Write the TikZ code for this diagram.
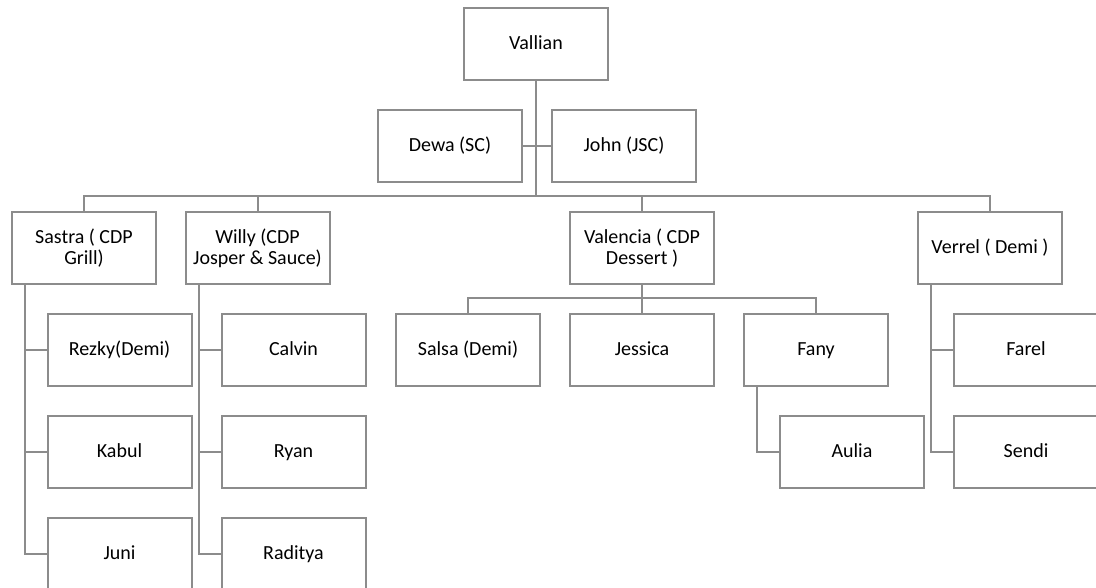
\documentclass[tikz,border=0pt]{standalone}
\usepackage{fontspec}
\setmainfont{Carlito}
\definecolor{linegray}{RGB}{140,140,140}
\newcommand{\lvl}{\vphantom{()}}
\begin{document}
\begin{tikzpicture}[x=0.75pt,y=-0.75pt,
  box/.style={draw=linegray, line width=1.5pt, fill=white, minimum width=108pt, minimum height=54pt,
    inner sep=2pt, align=center, font=\fontsize{15}{15.8}\selectfont, text=black},
  conn/.style={draw=linegray, line width=1.5pt}]
\useasboundingbox (0,0) rectangle (1096,588);
\fill[white] (0,0) rectangle (1096,588);
\clip (0,0) rectangle (1096,588);
% nodes
\node[box] (vallian) at (536,44) {\lvl Vallian};
\node[box] (dewa) at (450,146) {\lvl Dewa (SC)};
\node[box] (john) at (624,146) {\lvl John (JSC)};
\node[box] (sastra) at (84,248) {Sastra ( CDP\\Grill)};
\node[box] (willy) at (257.5,248) {Willy (CDP\\Josper \& Sauce)};
\node[box] (valencia) at (642,248) {Valencia ( CDP\\Dessert )};
\node[box] (verrel) at (990,248) {\lvl Verrel ( Demi )};
\node[box] (rezky) at (119.5,350) {\lvl Rezky(Demi)};
\node[box] (kabul) at (119.5,452) {\lvl Kabul};
\node[box] (juni) at (119.5,554) {\lvl Juni};
\node[box] (calvin) at (293.5,350) {\lvl Calvin};
\node[box] (ryan) at (293.5,452) {\lvl Ryan};
\node[box] (raditya) at (293.5,554) {\lvl Raditya};
\node[box] (salsa) at (468,350) {\lvl Salsa (Demi)};
\node[box] (jessica) at (642,350) {\lvl Jessica};
\node[box] (fany) at (816,350) {\lvl Fany};
\node[box] (aulia) at (852,452) {\lvl Aulia};
\node[box] (farel) at (1026,350) {\lvl Farel};
\node[box] (sendi) at (1026,452) {\lvl Sendi};
% connectors
\coordinate (bar) at (536,196);
\coordinate (vbar) at (642,298);
\draw[conn] (vallian.south) -- (bar);
\draw[conn] (dewa.east) -- (john.west);
\draw[conn] (sastra.north) |- (bar) -| (verrel.north);
\draw[conn] (willy.north) -- (willy.north |- bar);
\draw[conn] (valencia.north) -- (valencia.north |- bar);
\draw[conn] (valencia.south) -- (vbar);
\draw[conn] (salsa.north) |- (vbar) -| (fany.north);
\draw[conn] (jessica.north) -- (vbar);
\draw[conn] ([xshift=10.5pt]sastra.south west) |- (rezky.west);
\draw[conn] ([xshift=10.5pt]sastra.south west) |- (kabul.west);
\draw[conn] ([xshift=10.5pt]sastra.south west) |- (juni.west);
\draw[conn] ([xshift=10.5pt]willy.south west) |- (calvin.west);
\draw[conn] ([xshift=10.5pt]willy.south west) |- (ryan.west);
\draw[conn] ([xshift=10.5pt]willy.south west) |- (raditya.west);
\draw[conn] ([xshift=10.5pt]fany.south west) |- (aulia.west);
\draw[conn] ([xshift=10.5pt]verrel.south west) |- (farel.west);
\draw[conn] ([xshift=10.5pt]verrel.south west) |- (sendi.west);
\end{tikzpicture}
\end{document}
